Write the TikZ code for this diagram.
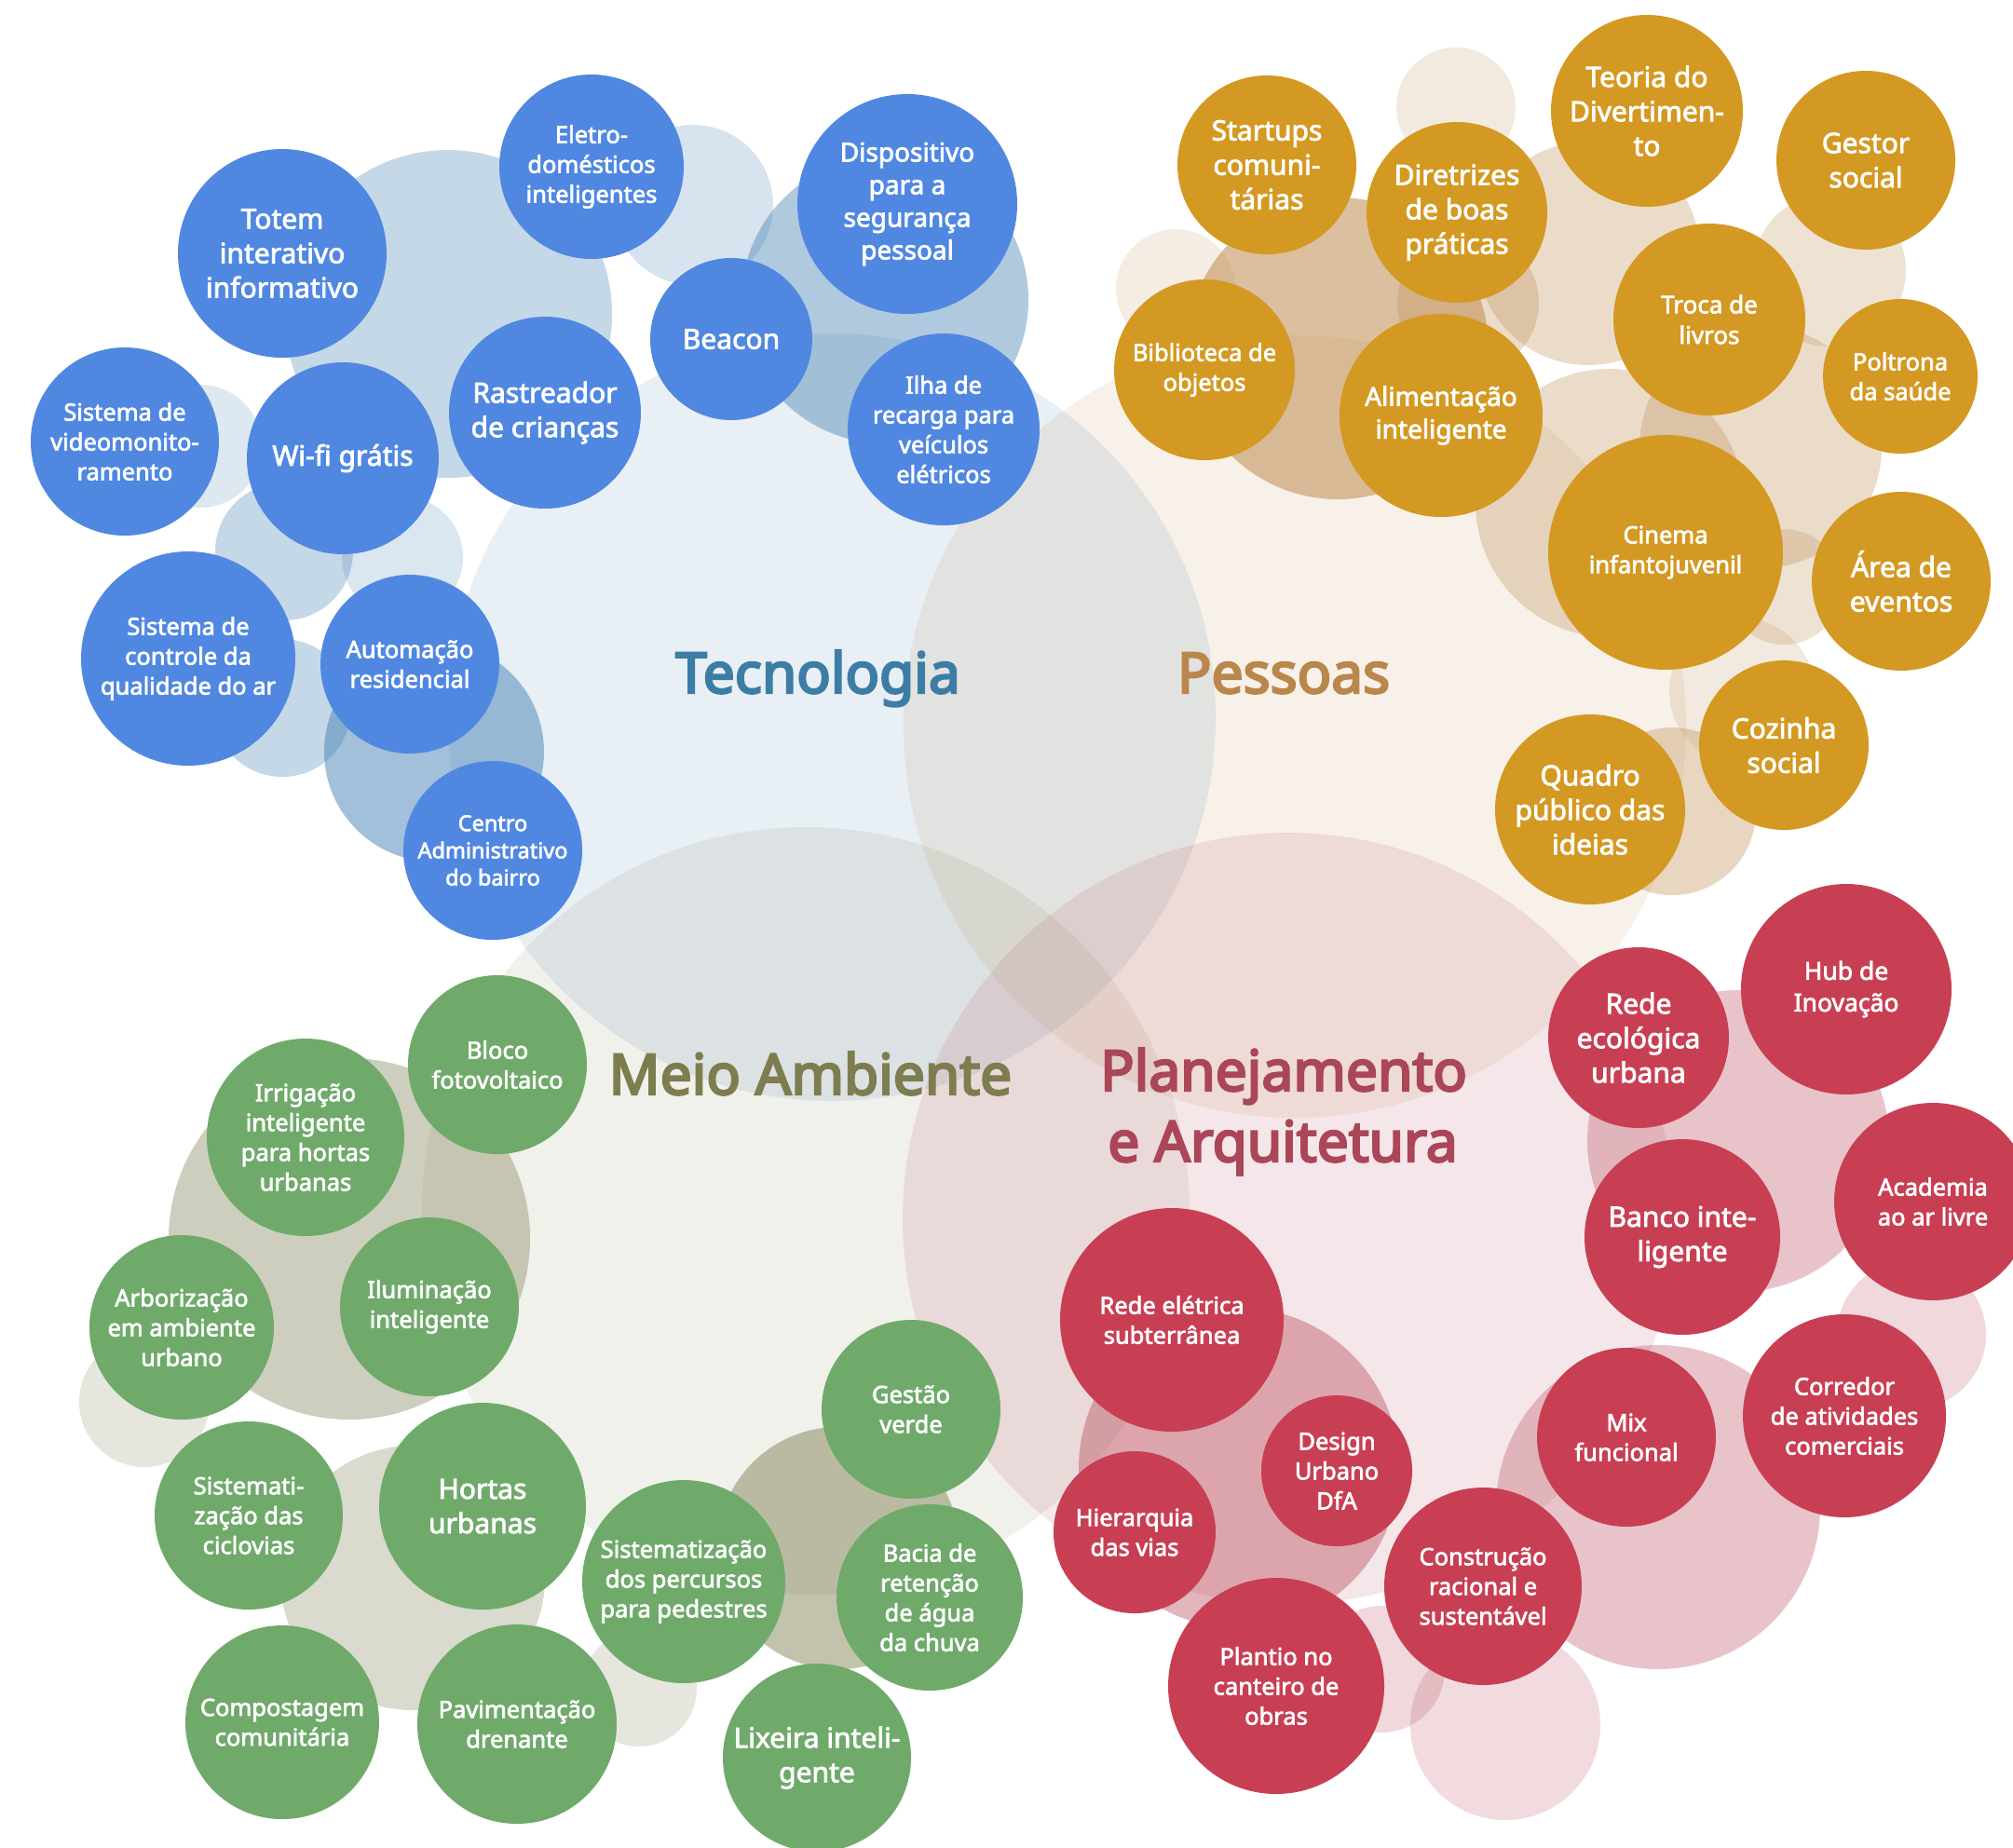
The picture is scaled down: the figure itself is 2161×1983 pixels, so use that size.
\documentclass[tikz,border=0pt]{standalone}
\usepackage{fontspec}
\setmainfont{Noto Sans}
\newfontfamily\nodefont{Noto Sans}[FakeBold=2.5]
\newfontfamily\catfont{Noto Sans}[FakeBold=4]
\definecolor{cblue}{RGB}{70,130,180}
\definecolor{cgold}{RGB}{190,140,80}
\definecolor{colive}{RGB}{120,120,75}
\definecolor{cred}{RGB}{180,60,80}
\definecolor{nblue}{RGB}{80,136,225}
\definecolor{ngold}{RGB}{212,153,34}
\definecolor{ngreen}{RGB}{111,170,107}
\definecolor{nred}{RGB}{200,63,84}
\definecolor{ltec}{RGB}{60,125,165}
\definecolor{lpes}{RGB}{185,135,75}
\definecolor{lmeio}{RGB}{125,125,80}
\definecolor{lplan}{RGB}{170,70,88}
\tikzset{
  blob/.style={circle, inner sep=0pt, align=center, text=white},
  tb/.style={blob, fill=nblue},
  tg/.style={blob, fill=ngold},
  te/.style={blob, fill=ngreen},
  tr/.style={blob, fill=nred},
  bigt/.style={font=\nodefont\fontsize{15}{18.5}\selectfont},
  midt/.style={font=\nodefont\fontsize{14}{17.5}\selectfont},
  smlt/.style={font=\nodefont\fontsize{12.75}{16}\selectfont},
  xst/.style={font=\nodefont\fontsize{11.75}{14.6}\selectfont},
  cat/.style={font=\catfont\fontsize{30.25}{37.5}\selectfont, anchor=base, inner sep=0pt},
}
\begin{document}
\begin{tikzpicture}[x=0.5pt,y=-0.5pt]
\fill[white] (0,0) rectangle (2161,1983);
\useasboundingbox (0,0) rectangle (2161,1983);
% big category circles
\fill[cblue, opacity=.12] (893,770) circle (206pt);
\fill[cgold, opacity=.12] (1390,780) circle (210pt);
\fill[colive, opacity=.10] (865,1300) circle (206pt);
\fill[cred, opacity=.12] (1383,1308) circle (207pt);
% blue bubbles
\fill[cblue, opacity=.31] (481,337) circle (88pt);
\fill[cblue, opacity=.21] (744,220) circle (43pt);
\fill[cblue, opacity=.43] (950,322) circle (77pt);
\fill[cblue, opacity=.18] (215,479) circle (33pt);
\fill[cblue, opacity=.31] (305,592) circle (37pt);
\fill[cblue, opacity=.20] (432,598) circle (32.5pt);
\fill[cblue, opacity=.31] (303,760) circle (37pt);
\fill[cblue, opacity=.50] (466,807) circle (59pt);
% gold bubbles
\fill[cgold, opacity=.18] (1563,115) circle (32pt);
\fill[cgold, opacity=.15] (1262,310) circle (32pt);
\fill[cgold, opacity=.55] (1436,374) circle (81pt);
\fill[cgold, opacity=.30] (1576,325) circle (38pt);
\fill[cgold, opacity=.30] (1705,272) circle (60pt);
\fill[cgold, opacity=.25] (1964,290) circle (41pt);
\fill[cgold, opacity=.30] (1728,540) circle (72pt);
\fill[cgold, opacity=.30] (1890,480) circle (65pt);
\fill[cgold, opacity=.25] (1915,630) circle (31pt);
\fill[cgold, opacity=.18] (1870,742) circle (39pt);
\fill[cgold, opacity=.35] (1795,871) circle (45pt);
% green bubbles
\fill[colive, opacity=.36] (375,1330) circle (97pt);
\fill[colive, opacity=.18] (155,1505) circle (35pt);
\fill[colive, opacity=.27] (443,1694) circle (71pt);
\fill[colive, opacity=.18] (686,1813) circle (31pt);
\fill[colive, opacity=.45] (900,1662) circle (65pt);
% red bubbles
\fill[cred, opacity=.30] (1866,1225) circle (81pt);
\fill[cred, opacity=.20] (2052,1433) circle (40pt);
\fill[cred, opacity=.30] (1780,1618) circle (87pt);
\fill[cred, opacity=.38] (1330,1576) circle (86pt);
\fill[cred, opacity=.20] (1483,1792) circle (34pt);
\fill[cred, opacity=.18] (1616,1852) circle (51pt);
% category labels
\node[cat, text=ltec] (ltecn) at (878,744) {Tecnologia};
\node[cat, text=lpes] (lpess) at (1378,744) {Pessoas};
\node[cat, text=lmeio] (lmeio) at (870,1175) {Meio Ambiente};
\node[cat, text=lplan] (lplana) at (1378,1171) {Planejamento};
\node[cat, text=lplan] (lplanb) at (1377,1247) {e Arquitetura};
% blue nodes
\node[tb, smlt, minimum size=99pt] (eletro) at (635,179) {Eletro-\\domésticos\\inteligentes};
\node[tb, midt, minimum size=118pt] (dispo) at (974,219) {Dispositivo\\para a\\segurança\\pessoal};
\node[tb, bigt, minimum size=112pt] (totem) at (303,272) {Totem\\interativo\\informativo};
\node[tb, bigt, minimum size=87pt] (beacon) at (785,364) {Beacon};
\node[tb, bigt, minimum size=103pt] (rastr) at (585,443) {Rastreador\\de crianças};
\node[tb, smlt, minimum size=101pt] (video) at (134,474) {Sistema de\\videomonito-\\ramento};
\node[tb, bigt, minimum size=103pt] (wifi) at (368,492) {Wi-fi grátis};
\node[tb, smlt, minimum size=103pt] (ilha) at (1013,461) {Ilha de\\recarga para\\veículos\\elétricos};
\node[tb, smlt, minimum size=115pt] (qar) at (202,707) {Sistema de\\controle da\\qualidade do ar};
\node[tb, smlt, minimum size=96pt] (autom) at (440,713) {Automação\\residencial};
\node[tb, xst, minimum size=96pt] (centro) at (529,913) {Centro\\Administrativo\\do bairro};
% gold nodes
\node[tg, bigt, minimum size=96pt] (startups) at (1360,177) {Startups\\comuni-\\tárias};
\node[tg, bigt, minimum size=97pt] (diretr) at (1564,228) {Diretrizes\\de boas\\práticas};
\node[tg, bigt, minimum size=103pt] (teoria) at (1768,119) {Teoria do\\Divertimen-\\to};
\node[tg, bigt, minimum size=96pt] (gestor) at (2003,172) {Gestor\\social};
\node[tg, smlt, minimum size=97pt] (biblio) at (1293,397) {Biblioteca de\\objetos};
\node[tg, midt, minimum size=109pt] (alim) at (1547,446) {Alimentação\\inteligente};
\node[tg, font=\nodefont\fontsize{13}{16.4}\selectfont, minimum size=103pt] (troca) at (1835,343) {Troca de\\livros};
\node[tg, smlt, minimum size=83pt] (poltr) at (2040,404) {Poltrona\\da saúde};
\node[tg, smlt, minimum size=126pt] (cinema) at (1788,593) {Cinema\\infantojuvenil};
\node[tg, bigt, minimum size=96pt] (area) at (2041,624) {Área de\\eventos};
\node[tg, bigt, minimum size=91pt] (cozinha) at (1915,800) {Cozinha\\social};
\node[tg, bigt, minimum size=102pt] (quadro) at (1707,869) {Quadro\\público das\\ideias};
% green nodes
\node[te, smlt, minimum size=96pt] (bloco) at (534,1143) {Bloco\\fotovoltaico};
\node[te, smlt, minimum size=106pt] (irrig) at (328,1221) {Irrigação\\inteligente\\para hortas\\urbanas};
\node[te, smlt, minimum size=99pt] (arbor) at (195,1425) {Arborização\\em ambiente\\urbano};
\node[te, smlt, minimum size=96pt] (ilum) at (461,1403) {Iluminação\\inteligente};
\node[te, smlt, minimum size=101pt] (ciclo) at (267,1627) {Sistemati-\\zação das\\ciclovias};
\node[te, bigt, minimum size=111pt] (hortas) at (518,1617) {Hortas\\urbanas};
\node[te, smlt, minimum size=109pt] (percur) at (734,1698) {Sistematização\\dos percursos\\para pedestres};
\node[te, smlt, minimum size=96pt] (gestao) at (978,1513) {Gestão\\verde};
\node[te, smlt, minimum size=100pt] (bacia) at (998,1715) {Bacia de\\retenção\\de água\\da chuva};
\node[te, smlt, minimum size=104pt] (compost) at (303,1849) {Compostagem\\comunitária};
\node[te, smlt, minimum size=107pt] (pavim) at (555,1851) {Pavimentação\\drenante};
\node[te, bigt, minimum size=101pt] (lixeira) at (877,1887) {Lixeira inteli-\\gente};
% red nodes
\node[tr, bigt, minimum size=97pt] (redeeco) at (1759,1114) {Rede\\ecológica\\urbana};
\node[tr, font=\nodefont\fontsize{13.25}{17}\selectfont, minimum size=113pt] (hub) at (1982,1062) {Hub de\\Inovação};
\node[tr, bigt, minimum size=105pt] (banco) at (1806,1328) {Banco inte-\\ligente};
\node[tr, smlt, minimum size=106pt] (academia) at (2075,1290) {Academia\\ao ar livre};
\node[tr, smlt, minimum size=120pt] (eletrica) at (1258,1417) {Rede elétrica\\subterrânea};
\node[tr, smlt, minimum size=81pt] (design) at (1435,1579) {Design\\Urbano\\DfA};
\node[tr, smlt, minimum size=87pt] (hierarq) at (1218,1645) {Hierarquia\\das vias};
\node[tr, smlt, minimum size=116pt] (plantio) at (1370,1810) {Plantio no\\canteiro de\\obras};
\node[tr, smlt, minimum size=106pt] (constr) at (1592,1703) {Construção\\racional e\\sustentável};
\node[tr, smlt, minimum size=96pt] (mix) at (1746,1543) {Mix\\funcional};
\node[tr, smlt, minimum size=109pt] (corredor) at (1980,1520) {Corredor\\de atividades\\comerciais};
\end{tikzpicture}
\end{document}
